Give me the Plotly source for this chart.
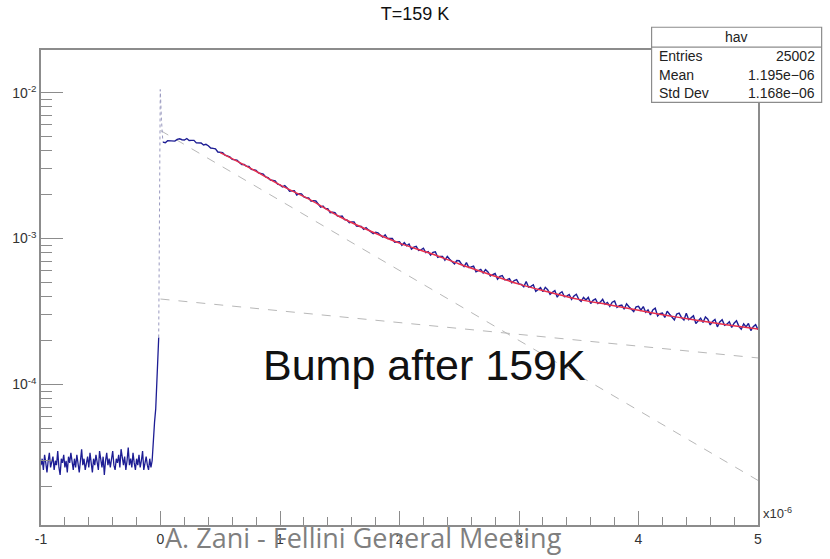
import numpy as np
import plotly.graph_objects as go

# ---- histogram "hav": counts per bin (units of 1e-6) ----
# pre-trigger baseline, bins from -1.00 to -0.07 us, step 0.01 us
baseline_x = np.round(np.arange(-1.00, -0.065, 0.01), 3)
baseline_y = [
    28, 31, 26, 33, 29, 25, 30, 34, 27, 29,
    32, 26, 30, 28, 35, 27, 24, 31, 29, 33,
    27, 30, 25, 32, 29, 34, 28, 26, 31, 27,
    33, 29, 25, 30, 36, 28, 31, 26, 29, 32,
    27, 34, 29, 25, 31, 28, 33, 30, 26, 35,
    29, 27, 32, 24, 30, 34, 28, 31, 27, 30,
    35, 28, 26, 31, 29, 33, 27, 36, 30, 28,
    32, 26, 30, 37, 28, 31, 27, 34, 29, 26,
    31, 28, 33, 27, 30, 35, 26, 29, 32, 28,
    26, 31, 27, 30,
]

# leading edge of the pulse
rise_x = [-0.07, -0.06, -0.05, -0.04, -0.03, -0.02, -0.015]
rise_y = [30, 44, 55, 68, 100, 170, 210]

# prompt spike at t = 0 (a few steep bins)
spike_x = [-0.015, -0.008, -0.002, 0.008, 0.02]
spike_y = [210, 1000, 10500, 6500, 4580]

# decay, bins from 0.02 to 5.00 us, step 0.02 us
decay_x = np.round(np.arange(0.02, 5.001, 0.02), 3)
decay_y = [
    # 0.02 - 1.00
    4580, 4535, 4689, 4674, 4665, 4649, 4783, 4824, 4756, 4730,
    4846, 4702, 4707, 4706, 4524, 4520, 4514, 4380, 4425, 4326,
    4173, 4150, 4113, 3918, 3912, 3882, 3722, 3674, 3632, 3488,
    3481, 3446, 3315, 3216, 3224, 3131, 3117, 2975, 2964, 2930,
    2814, 2776, 2761, 2644, 2612, 2519, 2512, 2484, 2355, 2330,
    # 1.02 - 2.00
    2256, 2306, 2222, 2111, 2120, 2127, 1989, 2030, 2025, 1926,
    1905, 1898, 1803, 1818, 1808, 1707, 1642, 1671, 1602, 1601,
    1502, 1514, 1506, 1428, 1416, 1425, 1346, 1340, 1284, 1299,
    1298, 1218, 1220, 1209, 1156, 1189, 1146, 1116, 1082, 1106,
    1094, 1055, 1022, 1061, 1000, 1003, 1000, 943, 943, 952,
    # 2.02 - 3.00
    897, 938, 893, 918, 845, 873, 884, 830, 837, 858,
    802, 815, 770, 804, 812, 744, 755, 754, 711, 754,
    722, 693, 670, 706, 704, 666, 643, 684, 634, 638,
    647, 592, 604, 615, 581, 612, 590, 553, 567, 576,
    526, 550, 558, 521, 523, 531, 497, 515, 523, 489,
    # 3.02 - 4.00
    485, 467, 508, 464, 470, 482, 434, 447, 461, 432,
    463, 446, 414, 429, 440, 396, 421, 432, 399, 403,
    414, 383, 404, 415, 384, 371, 395, 379, 395, 359,
    377, 386, 359, 366, 383, 355, 365, 343, 366, 373,
    338, 347, 350, 328, 357, 341, 327, 316, 340, 343,
    # 4.02 - 5.00
    323, 342, 312, 324, 300, 324, 333, 295, 306, 309,
    288, 318, 303, 288, 277, 304, 308, 287, 277, 308,
    278, 286, 296, 262, 274, 285, 266, 290, 280, 256,
    270, 279, 248, 268, 278, 254, 259, 269, 246, 263,
    273, 250, 239, 260, 248, 262, 234, 249, 257, 237,
]

# fit function (units of 1e-6)
fit_x = [0.5, 0.75, 1.0, 1.25, 1.5, 1.75, 2.0, 2.25, 2.5, 2.75,
         3.0, 3.25, 3.5, 3.75, 4.0, 4.25, 4.5, 4.75, 5.0]
fit_y = [3880, 3040, 2330, 1850, 1410, 1130, 930, 795, 670, 570,
         487, 430, 383, 352, 322, 296, 274, 256, 240]

# fit components: fast and slow exponentials (end points, units of 1e-6)
fast_x = [0.0, 5.0]
fast_y = [5500, 22]
slow_x = [0.0, 5.0]
slow_y = [385, 152]

# statistics box
stats_name = "hav"
stats_rows = [("Entries", "25002"), ("Mean", "1.195e\u221206"), ("Std Dev", "1.168e\u221206")]

x_ticks = [-1, 0, 1, 2, 3, 4, 5]
y_ticks = [1e-4, 1e-3, 1e-2]
y_ticktext = ["10<sup>-4</sup>", "10<sup>-3</sup>", "10<sup>-2</sup>"]

SCALE = 1e-6
def sc(v):
    return [a * SCALE for a in v]

BLUE = "#1d1d94"
fig = go.Figure()

fig.add_trace(go.Scatter(x=slow_x, y=sc(slow_y), mode="lines",
                         line=dict(color="#b8b8b8", width=1, dash="dash"), hoverinfo="skip"))
fig.add_trace(go.Scatter(x=fast_x, y=sc(fast_y), mode="lines",
                         line=dict(color="#b8b8b8", width=1, dash="dash"), hoverinfo="skip"))
fig.add_trace(go.Scatter(x=list(baseline_x) + rise_x, y=sc(baseline_y + rise_y), mode="lines",
                         line=dict(color=BLUE, width=1.3)))
fig.add_trace(go.Scatter(x=spike_x, y=sc(spike_y), mode="lines",
                         line=dict(color="#9a9ac0", width=1, dash="dot")))
fig.add_trace(go.Scatter(x=decay_x, y=sc(decay_y), mode="lines",
                         line=dict(color=BLUE, width=1.4)))
fig.add_trace(go.Scatter(x=fit_x, y=sc(fit_y), mode="lines",
                         line=dict(color="#e8304c", width=1.5, shape="spline")))

AX = "#8c8c8c"
fig.update_layout(
    width=830, height=559,
    margin=dict(l=37, r=72, t=50, b=29),
    paper_bgcolor="white", plot_bgcolor="white",
    showlegend=False,
    font=dict(family="Liberation Sans, Arial, sans-serif", color="#333333"),
    title=dict(text="T=159 K", x=0.5, xref="container", xanchor="center",
               y=1 - 14 / 559, yref="container", yanchor="middle",
               font=dict(size=18, color="#111111")),
    xaxis=dict(range=[-1, 5], showgrid=False, zeroline=False,
               showline=True, linecolor=AX, linewidth=1.5, mirror=True,
               ticks="inside", ticklen=14, tickcolor=AX, tickwidth=1,
               tickvals=x_ticks, ticktext=[str(v) for v in x_ticks],
               tickfont=dict(size=14, color="#333333"),
               minor=dict(ticks="inside", ticklen=8, tickcolor=AX, dtick=0.2, showgrid=False)),
    yaxis=dict(type="log", range=[-4.963, -1.708], showgrid=False, zeroline=False,
               showline=True, linecolor=AX, linewidth=1.5, mirror=True,
               ticks="inside", ticklen=22, tickcolor=AX, tickwidth=1,
               tickvals=y_ticks, ticktext=y_ticktext,
               tickfont=dict(size=14, color="#333333"),
               minor=dict(ticks="inside", ticklen=11, tickcolor=AX, dtick="D1", showgrid=False)),
)

# exponent label of the x axis
fig.add_annotation(x=1.0, xref="paper", y=0.0, yref="paper", xanchor="left", yanchor="bottom",
                   xshift=3, yshift=2, text="x10<sup>-6</sup>", showarrow=False,
                   font=dict(size=13, color="#333333"))

# statistics box in the upper-right corner
bx0, bx1 = (651 - 37) / 721, (822 - 37) / 721
by0, by1 = (530 - 103) / 480, (530 - 27) / 480
bhead = (530 - 47) / 480
fig.add_shape(type="rect", xref="paper", yref="paper", x0=bx0, x1=bx1, y0=by0, y1=by1,
              line=dict(color="#8c8c8c", width=1.2), fillcolor="white", layer="above")
fig.add_shape(type="line", xref="paper", yref="paper", x0=bx0, x1=bx1, y0=bhead, y1=bhead,
              line=dict(color="#8c8c8c", width=1.2), layer="above")
fig.add_annotation(x=(bx0 + bx1) / 2, y=(by1 + bhead) / 2, xref="paper", yref="paper",
                   text=stats_name, showarrow=False, xanchor="center", yanchor="middle",
                   font=dict(size=14, color="#222222"))
row_h = (bhead - by0) / len(stats_rows)
for i, (lab, val) in enumerate(stats_rows):
    yc = bhead - row_h * (i + 0.5)
    fig.add_annotation(x=bx0, y=yc, xref="paper", yref="paper", xshift=5, text=lab,
                       showarrow=False, xanchor="left", yanchor="middle",
                       font=dict(size=14, color="#222222"))
    fig.add_annotation(x=bx1, y=yc, xref="paper", yref="paper", xshift=-5, text=val,
                       showarrow=False, xanchor="right", yanchor="middle",
                       font=dict(size=14, color="#222222"))

# slide annotation
fig.add_annotation(x=(258 - 37) / 721, y=(530 - 368) / 480, xref="paper", yref="paper",
                   text="Bump after 159K", showarrow=False, xanchor="left", yanchor="middle",
                   font=dict(size=43, color="#111111", family="Liberation Sans, Arial, sans-serif"))

# slide footer
fig.add_annotation(x=(160 - 37) / 721, y=(530 - 543) / 480, xref="paper", yref="paper",
                   text="A. Zani - Fellini General Meeting", showarrow=False,
                   xanchor="left", yanchor="middle",
                   font=dict(size=27, color="#7f7f7f", family="Open Sans, sans-serif"))

fig.write_html("out.html")
